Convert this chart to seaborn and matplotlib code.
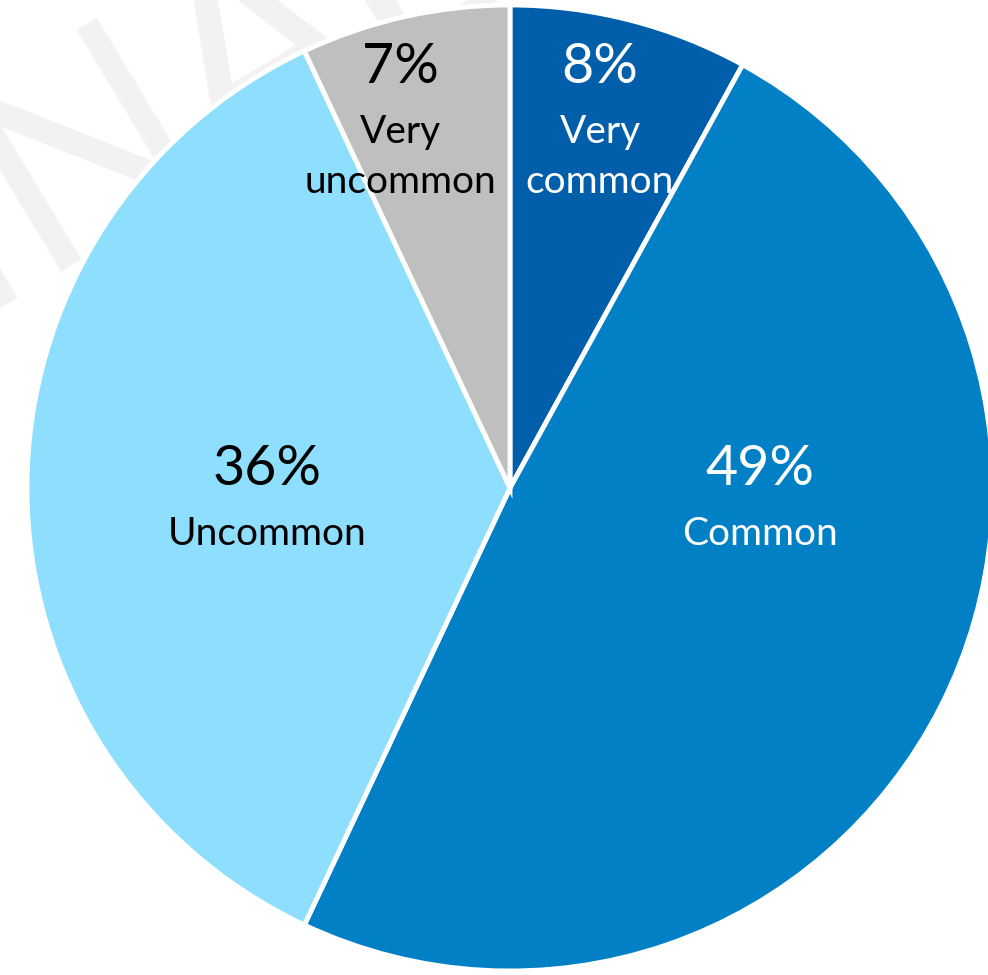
import matplotlib
matplotlib.use("Agg")
import matplotlib.pyplot as plt
import seaborn as sns

# Share of respondents by how common they rated the practice
categories = ["Very common", "Common", "Uncommon", "Very uncommon"]
shares = [8, 49, 36, 7]
label_lines = [["Very", "common"], ["Common"], ["Uncommon"], ["Very", "uncommon"]]
colors = ["#005EAB", "#0180C6", "#8DDFFD", "#BFBFBF"]
text_colors = ["white", "white", "black", "black"]

sns.set_theme(style="white")
plt.rcParams["font.family"] = ["Lato", "DejaVu Sans"]

W, H, DPI = 988, 975, 100
fig = plt.figure(figsize=(W / DPI, H / DPI), dpi=DPI)
ax = fig.add_axes([0, 0, 1, 1])

# pixel geometry of the pie on the canvas
cx, cy, r = 510, 488, 483


def to_data(px, py):
    return (px - cx) / r, (cy - py) / r


# faint watermark behind the pie
wx, wy = to_data(128, 124)
ax.text(wx, wy, "FINAL", rotation=31, rotation_mode="anchor",
        ha="center", va="center", fontsize=200, color="#F2F2F2", zorder=0)

wedges, _ = ax.pie(
    shares,
    colors=sns.color_palette(colors),
    startangle=90,
    counterclock=False,
    radius=1.0,
    wedgeprops=dict(edgecolor="white", linewidth=3.5),
)
for w in wedges:
    w.set_zorder(1)

# label anchor positions (pixels) for the percentage line of each slice
pct_pos = [(600, 68), (760, 470), (267, 470), (400, 68)]
for val, lines, (px, py), tc in zip(shares, label_lines, pct_pos, text_colors):
    x, y = to_data(px, py)
    ax.text(x, y, f"{val}%", ha="center", va="center", fontsize=40,
            color=tc, zorder=3)
    for i, line in enumerate(lines):
        lx, ly = to_data(px, py + 64 + 50 * i)
        ax.text(lx, ly, line, ha="center", va="center", fontsize=28,
                color=tc, zorder=3)

ax.set_xlim(-cx / r, (W - cx) / r)
ax.set_ylim(-(H - cy) / r, cy / r)
ax.set_aspect("equal")
ax.axis("off")

fig.savefig("out.png", dpi=DPI, facecolor="white")
